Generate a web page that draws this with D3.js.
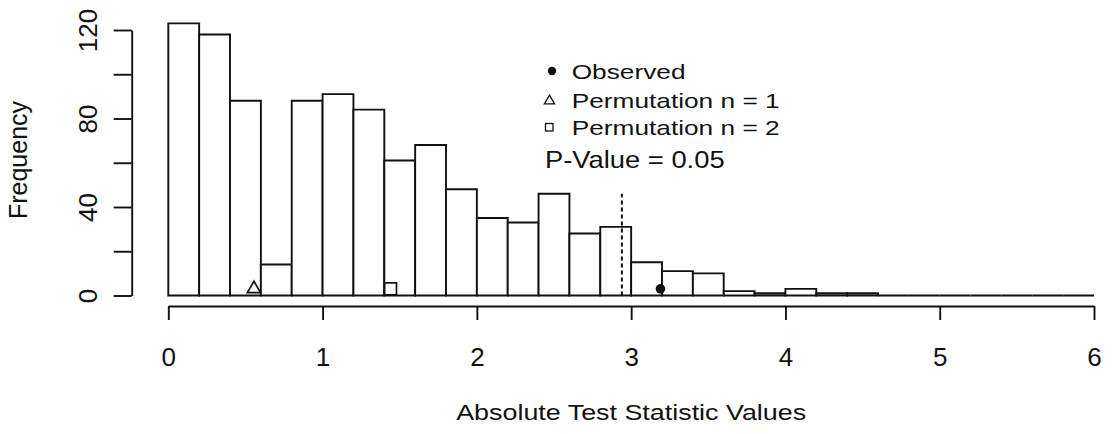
<!DOCTYPE html>
<html><head><meta charset="utf-8">
<script src="https://cdn.jsdelivr.net/npm/d3@7"></script>
<style>html,body{margin:0;padding:0;background:#fff}svg{display:block}</style>
</head><body>
<svg id="chart" width="1116" height="434"></svg>
<script>
// ---- data ----
const binStarts = [0.0,0.2,0.4,0.6,0.8,1.0,1.2,1.4,1.6,1.8,2.0,2.2,2.4,2.6,2.8,3.0,3.2,3.4,3.6,3.8,4.0,4.2,4.4,4.6,4.8,5.0,5.2,5.4,5.6,5.8];
const binWidth = 0.2;
const counts = [123,118,88,14,88,91,84,61,68,48,35,33,46,28,31,15,11,10,2,1,3,1,1,0,0,0,0,0,0,0];
const xTicks = [0,1,2,3,4,5,6];
const yTicks = [0,20,40,60,80,100,120];
const yTickLabels = [0,40,80,120];
const observedX = [3.19];
const perm1X = [0.555];
const perm2X = [1.44];
const markerY = 3;
const pValueX = 2.94;
const pValueTop = 46;
const legendLabels = ["Observed","Permutation n = 1","Permutation n = 2"];
const pValueLabel = "P-Value = 0.05";
const xTitle = "Absolute Test Statistic Values";
const yTitle = "Frequency";

// ---- layout ----
const svg = d3.select("#chart");
const ink = "#111";
const font = "'Liberation Sans', Arial, Helvetica, sans-serif";
const x = d3.scaleLinear().domain([0,6]).range([168.3,1094]);
const y = d3.scaleLinear().domain([0,120]).range([295.5,30]);

// bars (paths so zero-count bins still show as a flat line)
svg.append("g").selectAll("path").data(binStarts).join("path")
  .attr("d", (d,i) => {
    const p = d3.path();
    const x0 = x(d), x1 = x(d+binWidth), y0 = y(0), y1 = y(counts[i]);
    p.moveTo(x0,y0); p.lineTo(x0,y1); p.lineTo(x1,y1); p.lineTo(x1,y0); p.closePath();
    return p.toString();
  })
  .attr("fill", "#fff").attr("stroke", ink).attr("stroke-width", 1.9);

// dashed p-value line
svg.append("line")
  .attr("x1", x(pValueX)).attr("x2", x(pValueX))
  .attr("y1", y(0)).attr("y2", y(pValueTop))
  .attr("stroke", ink).attr("stroke-width", 2).attr("stroke-dasharray", "4,3");

// markers
svg.append("g").selectAll("circle").data(observedX).join("circle")
  .attr("cx", d => x(d)).attr("cy", y(markerY)).attr("r", 4.8).attr("fill", ink);
const tri = d3.symbol().type(d3.symbolTriangle).size(75);
svg.append("g").selectAll("path").data(perm1X).join("path")
  .attr("d", tri).attr("transform", d => `translate(${x(d)},${y(markerY)})`)
  .attr("fill", "none").attr("stroke", ink).attr("stroke-width", 1.7);
svg.append("g").selectAll("rect").data(perm2X).join("rect")
  .attr("x", d => x(d) - 6).attr("y", y(markerY) - 6).attr("width", 12).attr("height", 12)
  .attr("fill", "none").attr("stroke", ink).attr("stroke-width", 1.7);

// x axis
const gx = svg.append("g").attr("transform", "translate(0,306)")
  .call(d3.axisBottom(x).tickValues(xTicks).tickSize(14).tickSizeOuter(0).tickFormat(d3.format("d")));
gx.select(".domain").attr("stroke", ink).attr("stroke-width", 1.9);
gx.selectAll(".tick line").attr("stroke", ink).attr("stroke-width", 1.9);
gx.selectAll(".tick text").attr("y", 60).attr("dy", 0)
  .attr("font-size", 26).attr("font-family", font).attr("fill", ink);

// y axis
const gy = svg.append("g").attr("transform", "translate(131.7,0)")
  .call(d3.axisLeft(y).tickValues(yTicks).tickSize(18).tickSizeOuter(0)
    .tickFormat(d => yTickLabels.includes(d) ? d : ""));
gy.select(".domain").attr("stroke", ink).attr("stroke-width", 1.9);
gy.selectAll(".tick line").attr("stroke", ink).attr("stroke-width", 1.9);
gy.selectAll(".tick text").attr("x", null).attr("dy", 0).attr("text-anchor", "middle")
  .attr("transform", "translate(-34.7,0) rotate(-90)")
  .attr("font-size", 26).attr("font-family", font).attr("fill", ink);

// titles
svg.append("text").text(xTitle)
  .attr("transform", `translate(${x(3)},420) scale(1.25,1)`)
  .attr("text-anchor", "middle").attr("font-size", 21.5).attr("font-family", font).attr("fill", ink);
svg.append("text").text(yTitle)
  .attr("transform", "translate(27,160) rotate(-90)")
  .attr("text-anchor", "middle").attr("font-size", 25).attr("font-family", font).attr("fill", ink);

// legend
const legY = [71, 100, 127];
const leg = svg.append("g");
leg.selectAll("text").data(legendLabels).join("text").text(d => d)
  .attr("transform", (d,i) => `translate(571.7,${legY[i]+7.5}) scale(1.25,1)`)
  .attr("font-size", 21).attr("font-family", font).attr("fill", ink);
leg.append("circle").attr("cx", 552).attr("cy", legY[0]).attr("r", 4.2).attr("fill", ink);
leg.append("path").attr("d", d3.symbol().type(d3.symbolTriangle).size(45))
  .attr("transform", `translate(549.5,${legY[1]+1})`)
  .attr("fill", "none").attr("stroke", ink).attr("stroke-width", 1.3);
leg.append("rect").attr("x", 545.5).attr("y", legY[2]-3.5).attr("width", 7.5).attr("height", 7.5)
  .attr("fill", "none").attr("stroke", ink).attr("stroke-width", 1.3);
svg.append("text").text(pValueLabel)
  .attr("transform", "translate(545,168.3) scale(1.14,1)")
  .attr("font-size", 24).attr("font-family", font).attr("fill", ink);
</script>
</body></html>
